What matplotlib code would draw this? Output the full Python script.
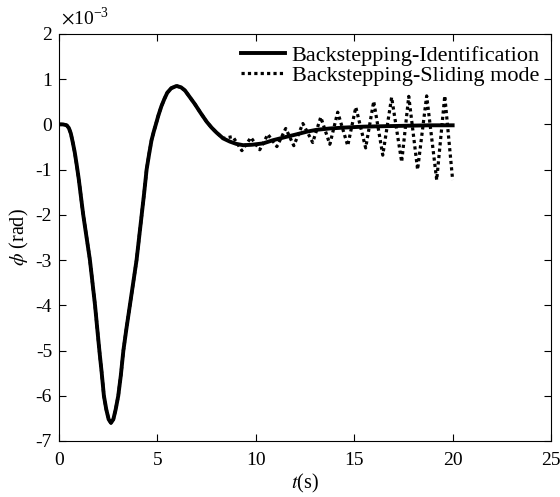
import matplotlib

matplotlib.use('Agg')
import matplotlib.pyplot as plt

# values, phi in units of 1e-3 rad
t_ident = [0, 0.2, 0.39, 0.5, 0.6, 0.7, 0.8, 0.9, 1.0, 1.1, 1.23, 1.4, 1.57, 1.7, 1.83,
           1.95, 2.05, 2.17, 2.28, 2.4, 2.52, 2.64, 2.76, 2.88, 3.01, 3.14, 3.27, 3.43,
           3.6, 3.77, 3.94, 4.07, 4.2, 4.33, 4.45, 4.58, 4.7, 4.82, 4.92, 5.05, 5.2,
           5.35, 5.5, 5.7, 5.97, 6.2, 6.4, 6.65, 6.9, 7.2, 7.5, 7.75, 8.0, 8.34,
           8.68, 9.0, 9.36, 9.8, 10.37, 10.87, 11.5, 12.07, 12.6, 13.08, 13.76, 14.5,
           15.45, 16.5, 17.65, 18.8, 20]
phi_ident = [0, 0, -0.02, -0.08, -0.2, -0.4, -0.62, -0.9, -1.2, -1.55, -2.0, -2.5, -3.0,
             -3.5, -4.0, -4.55, -5.0, -5.5, -6.0, -6.3, -6.52, -6.6, -6.52, -6.3, -6.0,
             -5.55, -5.0, -4.5, -4.0, -3.5, -3.0, -2.5, -2.0, -1.5, -1.0, -0.65, -0.35,
             -0.15, 0.0, 0.2, 0.4, 0.56, 0.7, 0.8, 0.85, 0.82, 0.75, 0.6, 0.45, 0.25,
             0.06, -0.07, -0.18, -0.31, -0.38, -0.43, -0.46, -0.45, -0.42, -0.35, -0.28,
             -0.22, -0.16, -0.12, -0.09, -0.07, -0.05, -0.04, -0.03, -0.02, -0.02]

# sliding mode follows the identification curve until ~8.5 s, then oscillates
n_common = t_ident.index(8.34) + 1
t_slide = t_ident[:n_common] + [8.83, 9.29, 9.75, 10.2, 10.61, 11.07, 11.52, 11.93, 12.39,
                                12.89, 13.3, 13.76, 14.16, 14.67, 15.08, 15.58, 15.99, 16.45,
                                16.9, 17.41, 17.77, 18.22, 18.68, 19.19, 19.6, 20.0]
phi_slide = phi_ident[:n_common] + [-0.27, -0.58, -0.29, -0.56, -0.22, -0.49, -0.09, -0.47, 0.02,
                                    -0.4, 0.16, -0.44, 0.27, -0.47, 0.38, -0.52, 0.51, -0.68,
                                    0.6, -0.83, 0.62, -1.0, 0.63, -1.23, 0.63, -1.23]

labels = ['Backstepping-Identification', 'Backstepping-Sliding mode']

plt.rcParams['font.family'] = ['Liberation Serif', 'DejaVu Serif']
plt.rcParams['mathtext.fontset'] = 'stix'
plt.rcParams['axes.unicode_minus'] = False

fig = plt.figure(figsize=(5.6, 4.97), dpi=100)
ax = fig.add_axes([0.1054, 0.1127, 0.8786, 0.819])

ax.plot(t_ident, phi_ident, color='black', lw=2.8, label=labels[0])
ax.plot(t_slide, phi_slide, color='black', lw=2.3, dashes=(1, 1), label=labels[1])

ax.set_xlim(0, 25)
ax.set_ylim(-7, 2)
ax.set_xticks(range(0, 26, 5))
ax.set_yticks(range(-7, 3))
ax.tick_params(direction='in', top=True, right=True, length=5, labelsize=14, width=0.8)
ax.tick_params(axis='x', pad=8)
ax.tick_params(axis='y', pad=5)
for s in ax.spines.values():
    s.set_linewidth(0.8)

ax.text(0.005, 1.012, r'$\times$10$^{\mathdefault{-3}}$', transform=ax.transAxes,
        fontsize=14, ha='left', va='bottom')

ax.set_xlabel(r'$t$(s)', fontsize=14.5, labelpad=2)
ax.set_ylabel(r'$\phi$ (rad)', fontsize=14.5, labelpad=3)

leg = ax.legend(loc='upper right', frameon=False, fontsize=16, handlelength=2.0,
                handletextpad=0.3, borderaxespad=0.1, labelspacing=0.0)

plt.savefig('out.png', dpi=100)
plt.close()
